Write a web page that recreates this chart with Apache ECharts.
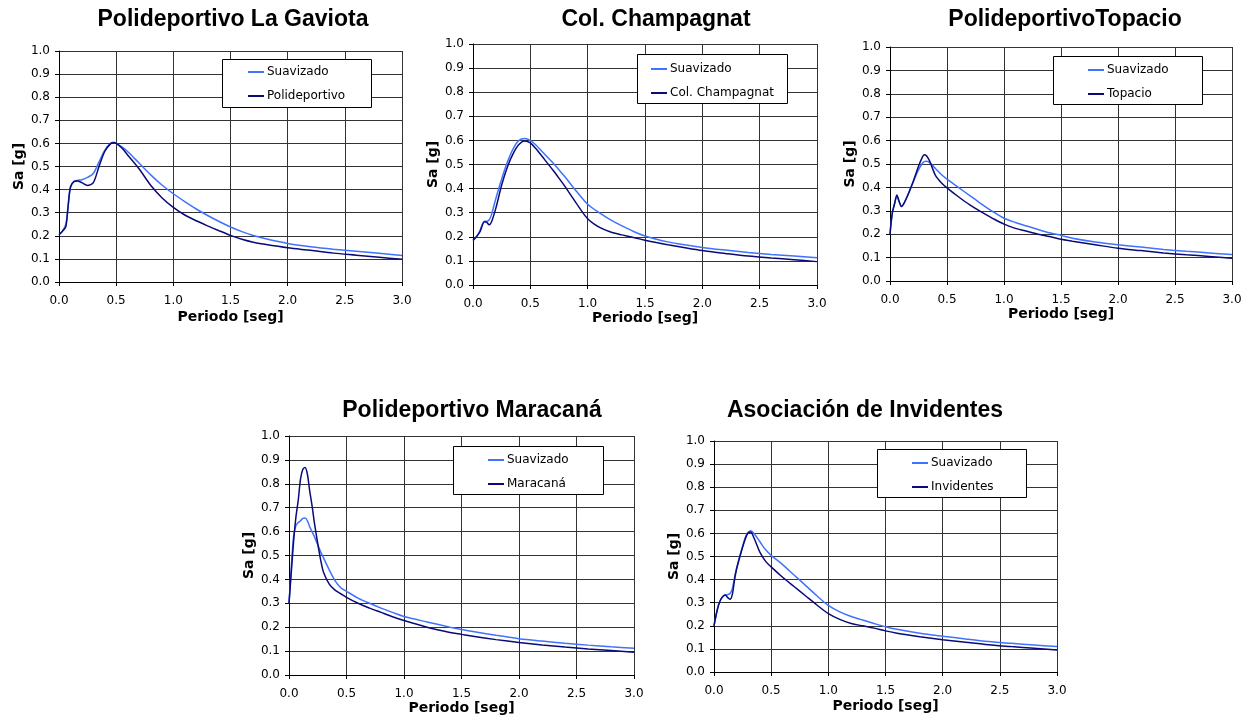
<!DOCTYPE html>
<html><head><meta charset="utf-8">
<script src="https://cdn.jsdelivr.net/npm/echarts@6/dist/echarts.min.js"></script>
<style>html,body{margin:0;padding:0;background:#fff}#c{width:1252px;height:716px}</style>
</head><body><div id="c"></div>
<script>
// ---- Data (Periodo [seg] vs Sa [g]) ----
const xTicks = [0, 0.5, 1.0, 1.5, 2.0, 2.5, 3.0];
const yTicks = [0, 0.1, 0.2, 0.3, 0.4, 0.5, 0.6, 0.7, 0.8, 0.9, 1.0];

const titles = ['Polideportivo La Gaviota', 'Col. Champagnat', 'PolideportivoTopacio', 'Polideportivo Maracaná', 'Asociación de Invidentes'];
const measuredNames = ['Polideportivo', 'Col. Champagnat', 'Topacio', 'Maracaná', 'Invidentes'];

const gaviotaT    = [0, 0.03, 0.06, 0.08, 0.1, 0.13, 0.16, 0.2, 0.25, 0.3, 0.35, 0.4, 0.45, 0.48, 0.5, 0.55, 0.6, 0.7, 0.8, 0.9, 1.0, 1.1, 1.2, 1.3, 1.4, 1.5, 1.6, 1.7, 1.8, 2.0, 2.2, 2.4, 2.6, 2.8, 3.0];
const gaviotaSuav = [0.205, 0.22, 0.25, 0.33, 0.41, 0.435, 0.44, 0.443, 0.453, 0.47, 0.52, 0.57, 0.6, 0.605, 0.6, 0.585, 0.565, 0.515, 0.465, 0.42, 0.382, 0.348, 0.316, 0.288, 0.262, 0.238, 0.218, 0.201, 0.188, 0.167, 0.153, 0.142, 0.133, 0.124, 0.115];
const gaviotaMeas = [0.205, 0.22, 0.24, 0.33, 0.41, 0.435, 0.437, 0.43, 0.418, 0.43, 0.5, 0.565, 0.598, 0.603, 0.6, 0.58, 0.55, 0.49, 0.42, 0.365, 0.323, 0.29, 0.265, 0.243, 0.222, 0.202, 0.185, 0.172, 0.163, 0.148, 0.137, 0.125, 0.116, 0.107, 0.098];

const champT    = [0, 0.03, 0.06, 0.1, 0.12, 0.14, 0.16, 0.2, 0.25, 0.3, 0.35, 0.4, 0.45, 0.5, 0.55, 0.6, 0.7, 0.75, 0.8, 0.9, 1.0, 1.1, 1.2, 1.3, 1.4, 1.5, 1.6, 1.7, 1.8, 2.0, 2.2, 2.4, 2.6, 2.8, 3.0];
const champSuav = [0.185, 0.2, 0.225, 0.265, 0.265, 0.27, 0.29, 0.36, 0.44, 0.51, 0.565, 0.6, 0.608, 0.6, 0.58, 0.555, 0.505, 0.478, 0.45, 0.39, 0.335, 0.3, 0.27, 0.245, 0.222, 0.203, 0.19, 0.179, 0.17, 0.156, 0.145, 0.135, 0.127, 0.12, 0.113];
const champMeas = [0.185, 0.2, 0.22, 0.262, 0.26, 0.25, 0.26, 0.32, 0.415, 0.49, 0.545, 0.583, 0.598, 0.59, 0.565, 0.535, 0.475, 0.443, 0.41, 0.34, 0.275, 0.24, 0.22, 0.208, 0.197, 0.186, 0.176, 0.167, 0.159, 0.143, 0.131, 0.12, 0.112, 0.105, 0.097];

const topacioT    = [0, 0.02, 0.04, 0.06, 0.08, 0.1, 0.12, 0.15, 0.2, 0.25, 0.28, 0.3, 0.32, 0.35, 0.4, 0.45, 0.5, 0.6, 0.7, 0.8, 0.9, 1.0, 1.1, 1.2, 1.3, 1.4, 1.5, 1.6, 1.8, 2.0, 2.2, 2.4, 2.6, 2.8, 3.0];
const topacioSuav = [0.2, 0.29, 0.33, 0.36, 0.34, 0.32, 0.33, 0.36, 0.42, 0.475, 0.5, 0.51, 0.512, 0.505, 0.48, 0.455, 0.435, 0.4, 0.365, 0.33, 0.297, 0.268, 0.25, 0.235, 0.22, 0.206, 0.195, 0.183, 0.167, 0.155, 0.145, 0.135, 0.127, 0.12, 0.113];
const topacioMeas = [0.2, 0.29, 0.33, 0.368, 0.34, 0.318, 0.33, 0.36, 0.42, 0.49, 0.525, 0.54, 0.535, 0.51, 0.45, 0.42, 0.398, 0.36, 0.325, 0.295, 0.268, 0.243, 0.225, 0.213, 0.2, 0.19, 0.178, 0.17, 0.155, 0.14, 0.13, 0.12, 0.112, 0.105, 0.097];

const maracanaT    = [0, 0.02, 0.04, 0.06, 0.08, 0.1, 0.12, 0.14, 0.16, 0.18, 0.2, 0.22, 0.25, 0.28, 0.3, 0.35, 0.4, 0.45, 0.5, 0.6, 0.7, 0.8, 0.9, 1.0, 1.2, 1.4, 1.5, 1.6, 1.8, 2.0, 2.2, 2.4, 2.6, 2.8, 3.0];
const maracanaSuav = [0.3, 0.45, 0.58, 0.625, 0.638, 0.645, 0.655, 0.657, 0.645, 0.62, 0.6, 0.58, 0.545, 0.51, 0.49, 0.44, 0.395, 0.365, 0.35, 0.322, 0.3, 0.28, 0.262, 0.245, 0.222, 0.2, 0.19, 0.182, 0.166, 0.152, 0.142, 0.133, 0.125, 0.118, 0.112];
const maracanaMeas = [0.3, 0.43, 0.56, 0.66, 0.73, 0.82, 0.86, 0.868, 0.84, 0.77, 0.71, 0.64, 0.55, 0.47, 0.43, 0.38, 0.355, 0.34, 0.325, 0.3, 0.28, 0.262, 0.244, 0.228, 0.2, 0.178, 0.17, 0.162, 0.148, 0.136, 0.126, 0.117, 0.109, 0.102, 0.095];

const invidT    = [0, 0.02, 0.04, 0.06, 0.08, 0.1, 0.12, 0.14, 0.16, 0.18, 0.2, 0.25, 0.28, 0.3, 0.32, 0.35, 0.4, 0.45, 0.5, 0.6, 0.7, 0.8, 0.9, 1.0, 1.1, 1.2, 1.3, 1.4, 1.5, 1.6, 1.8, 2.0, 2.2, 2.4, 2.6, 2.8, 3.0];
const invidSuav = [0.2, 0.25, 0.29, 0.315, 0.328, 0.333, 0.335, 0.34, 0.36, 0.41, 0.455, 0.545, 0.59, 0.605, 0.612, 0.6, 0.565, 0.53, 0.505, 0.465, 0.42, 0.375, 0.33, 0.288, 0.26, 0.24, 0.225, 0.21, 0.196, 0.185, 0.168, 0.155, 0.143, 0.132, 0.124, 0.117, 0.11];
const invidMeas = [0.2, 0.25, 0.29, 0.315, 0.328, 0.333, 0.322, 0.315, 0.335, 0.4, 0.45, 0.54, 0.585, 0.603, 0.606, 0.58, 0.52, 0.48, 0.455, 0.41, 0.37, 0.33, 0.29, 0.253, 0.228, 0.21, 0.2, 0.19, 0.178, 0.168, 0.153, 0.14, 0.129, 0.118, 0.11, 0.103, 0.095];

const chartsData = [
  [gaviotaT, gaviotaSuav, gaviotaMeas],
  [champT, champSuav, champMeas],
  [topacioT, topacioSuav, topacioMeas],
  [maracanaT, maracanaSuav, maracanaMeas],
  [invidT, invidSuav, invidMeas]
];

// ---- Layout ----
const grids = [
  {left: 59, top: 51, width: 343, height: 231},
  {left: 473, top: 44, width: 344, height: 241},
  {left: 890, top: 47, width: 342, height: 234},
  {left: 289, top: 436, width: 345, height: 239},
  {left: 714, top: 441, width: 343, height: 231}
];
const titlePos = [[233, 8], [656, 8], [1065, 8], [472, 399], [865, 399]];
const legendBox = [[222, 59, 149, 48], [637, 54, 150, 49], [1053, 56, 149, 48], [453, 446, 150, 48], [877, 449, 149, 48]];
const legendPos = [[248, 65], [651, 62], [1088, 63], [488, 453], [912, 456]];
const xNameGap = [28, 23, 26, 22, 27];

const SUAV = '#3f72ff', MEAS = '#0a0a78', GRID = '#333333';
const tickFont = {fontFamily: 'DejaVu Sans', fontSize: 12, color: '#000'};
const nameFont = {fontFamily: 'DejaVu Sans', fontSize: 14, fontWeight: 'bold', color: '#000'};

const option = {
  animation: false,
  backgroundColor: '#fff',
  title: [], grid: [], xAxis: [], yAxis: [], series: [], legend: [], graphic: []
};

for (let i = 0; i < 5; i++) {
  const [T, S, M] = chartsData[i];
  option.title.push({
    text: titles[i], left: titlePos[i][0], top: titlePos[i][1], textAlign: 'center', padding: 0,
    textStyle: {fontFamily: 'Liberation Sans', fontSize: 23, fontWeight: 'bold', color: '#000'}
  });
  option.grid.push(Object.assign({containLabel: false}, grids[i]));
  option.xAxis.push({
    type: 'value', gridIndex: i, min: xTicks[0], max: xTicks[xTicks.length - 1], interval: 0.5,
    name: 'Periodo [seg]', nameLocation: 'middle', nameGap: xNameGap[i], nameTextStyle: nameFont,
    axisLine: {lineStyle: {color: '#000', width: 1}},
    axisTick: {show: true, length: 4, lineStyle: {color: '#000'}},
    axisLabel: Object.assign({formatter: v => v.toFixed(1), margin: 13}, tickFont),
    splitLine: {show: true, lineStyle: {color: GRID, width: 1}}
  });
  option.yAxis.push({
    type: 'value', gridIndex: i, min: yTicks[0], max: yTicks[yTicks.length - 1], interval: 0.1,
    name: 'Sa [g]', nameLocation: 'middle', nameGap: 33, nameRotate: 90, nameTextStyle: nameFont,
    axisLine: {show: true, lineStyle: {color: '#000', width: 1}},
    axisTick: {show: true, length: 4, lineStyle: {color: '#000'}},
    axisLabel: Object.assign({formatter: v => v.toFixed(1), margin: 9}, tickFont),
    splitLine: {show: true, lineStyle: {color: GRID, width: 1}}
  });
  option.series.push({
    name: 'Suavizado', type: 'line', xAxisIndex: i, yAxisIndex: i, showSymbol: false, smooth: 0.3,
    lineStyle: {color: SUAV, width: 1.5}, itemStyle: {color: SUAV},
    data: T.map((t, k) => [t, S[k]])
  });
  option.series.push({
    name: measuredNames[i], type: 'line', xAxisIndex: i, yAxisIndex: i, showSymbol: false, smooth: 0.3,
    lineStyle: {color: MEAS, width: 1.5}, itemStyle: {color: MEAS},
    data: T.map((t, k) => [t, M[k]])
  });
  const b = legendBox[i];
  option.graphic.push({
    type: 'rect', z: 3, shape: {x: b[0] + 0.5, y: b[1] + 0.5, width: b[2], height: b[3]},
    style: {fill: '#fff', stroke: '#000', lineWidth: 1}
  });
  option.legend.push({
    left: legendPos[i][0], top: legendPos[i][1], orient: 'vertical', padding: 0, itemGap: 10,
    itemWidth: 16, itemHeight: 2, icon: 'rect', z: 5,
    data: ['Suavizado', measuredNames[i]],
    textStyle: {fontFamily: 'DejaVu Sans', fontSize: 12, color: '#000', lineHeight: 14, padding: [0, 0, 0, -2]}
  });
}

const chart = echarts.init(document.getElementById('c'), null, {renderer: 'canvas'});
chart.setOption(option);
</script>
</body></html>
